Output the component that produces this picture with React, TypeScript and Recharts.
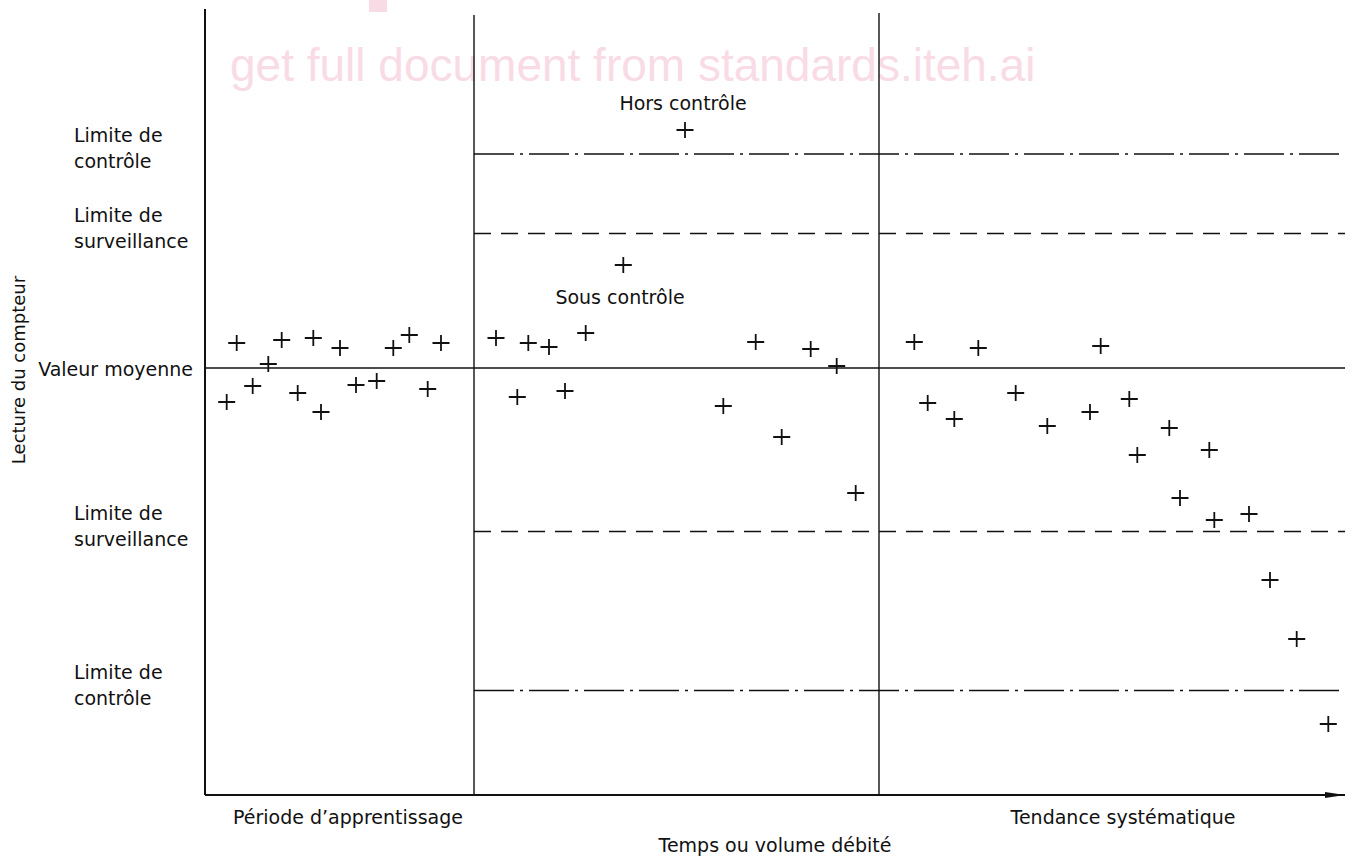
import React from "react";
import { ScatterChart, Scatter, XAxis, YAxis, ReferenceLine, ReferenceDot } from "recharts";

// readings: t = time / volume, v = meter reading
const learningPeriod = [
  { t: 2.17, v: 39.3 }, { t: 3.17, v: 45.2 }, { t: 4.77, v: 40.9 }, { t: 6.33, v: 43.1 },
  { t: 7.67, v: 45.5 }, { t: 9.27, v: 40.2 }, { t: 10.83, v: 45.7 }, { t: 11.6, v: 38.3 },
  { t: 13.5, v: 44.7 }, { t: 15.1, v: 41.0 }, { t: 17.17, v: 41.4 }, { t: 18.83, v: 44.7 },
  { t: 20.43, v: 46.0 }, { t: 22.27, v: 40.6 }, { t: 23.6, v: 45.2 },
];

const monitoredPeriod = [
  { t: 29.1, v: 45.7 }, { t: 31.23, v: 39.8 }, { t: 32.33, v: 45.2 }, { t: 34.4, v: 44.8 },
  { t: 36.0, v: 40.4 }, { t: 38.07, v: 46.2 }, { t: 41.83, v: 53.0 }, { t: 48.0, v: 66.5 },
  { t: 51.83, v: 38.9 }, { t: 55.07, v: 45.3 }, { t: 57.67, v: 35.8 }, { t: 60.57, v: 44.6 },
  { t: 63.17, v: 42.9 }, { t: 65.07, v: 30.2 },
];

const trendPeriod = [
  { t: 70.93, v: 45.3 }, { t: 72.27, v: 39.2 }, { t: 74.93, v: 37.6 }, { t: 77.33, v: 44.7 },
  { t: 81.07, v: 40.2 }, { t: 84.23, v: 36.9 }, { t: 88.5, v: 38.3 }, { t: 89.57, v: 44.9 },
  { t: 92.43, v: 39.6 }, { t: 93.23, v: 34.0 }, { t: 96.43, v: 36.7 }, { t: 97.5, v: 29.7 },
  { t: 100.43, v: 34.5 }, { t: 100.93, v: 27.5 }, { t: 104.4, v: 28.1 }, { t: 106.5, v: 21.5 },
  { t: 109.17, v: 15.6 }, { t: 112.33, v: 7.1 },
];

const meanValue = 42.7;
const controlLimits = [64.1, 10.45];
const watchLimits = [56.15, 26.35];
const periodBounds = [26.9, 67.4];
const periodTops = [78, 78.2];
const xMax = 114;
const yMax = 78.6;

const yTicks = [64.1, 56.15, 42.7, 26.35, 10.45];
const yTickLabels = [
  ["Limite de", "contrôle"],
  ["Limite de", "surveillance"],
  ["Valeur moyenne"],
  ["Limite de", "surveillance"],
  ["Limite de", "contrôle"],
];

const periodTicks = [14.3, 91.8];
const periodLabels = ["Période d’apprentissage", "Tendance systématique"];

const notes = [
  { t: 47.8, v: 69.2, text: "Hors contrôle" },
  { t: 41.5, v: 49.8, text: "Sous contrôle" },
];

const INK = "#111";
const FONT = "'DejaVu Sans', sans-serif";

const Plus = (props: any) => {
  const { cx, cy } = props;
  return (
    <path
      d={`M${cx - 8.5},${cy}H${cx + 8.5}M${cx},${cy - 8}V${cy + 8}`}
      stroke={INK}
      strokeWidth={1.8}
      fill="none"
    />
  );
};

const LimitTick = (props: any) => {
  const { x, y, payload } = props;
  const lines = yTickLabels[yTicks.indexOf(payload.value)] || [];
  const common = { fill: INK, fontSize: 19, fontFamily: FONT, dominantBaseline: "central" as const };
  if (lines.length === 1) {
    return (
      <text x={x - 12} y={y + 1} textAnchor="end" {...common}>
        {lines[0]}
      </text>
    );
  }
  return (
    <g>
      <text x={x - 131} y={y - 19} textAnchor="start" {...common}>{lines[0]}</text>
      <text x={x - 131} y={y + 7} textAnchor="start" {...common}>{lines[1]}</text>
    </g>
  );
};

const PeriodTick = (props: any) => {
  const { x, y, payload } = props;
  const label = periodLabels[periodTicks.indexOf(payload.value)] || "";
  return (
    <text x={x} y={y + 22} textAnchor="middle" dominantBaseline="central" fill={INK} fontSize={19} fontFamily={FONT}>
      {label}
    </text>
  );
};

const YTitle = (props: any) => {
  const { viewBox } = props;
  const cx = viewBox.x + 18;
  const cy = viewBox.y + viewBox.height / 2 - 32;
  return (
    <text
      x={cx}
      y={cy}
      transform={`rotate(-90 ${cx} ${cy})`}
      textAnchor="middle"
      dominantBaseline="central"
      fill={INK}
      fontSize={18}
      fontFamily={FONT}
    >
      Lecture du compteur
    </text>
  );
};

const Arrow = (props: any) => {
  const { cx, cy } = props;
  return <path d={`M${cx},${cy} L${cx - 20},${cy - 3} L${cx - 20},${cy + 3} Z`} fill={INK} />;
};

export default function App() {
  return (
    <div style={{ position: "absolute", left: 0, top: 0, width: 1355, height: 858, background: "#fff" }}>
      <svg width={1355} height={858} style={{ position: "absolute", left: 0, top: 0 }}>
        <rect x={369} y={0} width={18} height={12} fill="#f9dbe6" />
        <text x={230} y={81} fill="#f9dbe6" fontSize={46} fontFamily="'Liberation Sans', Arial, sans-serif">
          get full document from standards.iteh.ai
        </text>
      </svg>
      <div style={{ position: "absolute", left: 0, top: 0 }}>
        <ScatterChart width={1355} height={858} margin={{ top: 9, right: 10, bottom: 0, left: 0 }}>
          <XAxis
            type="number"
            dataKey="t"
            domain={[0, xMax]}
            ticks={periodTicks}
            interval={0}
            tick={<PeriodTick />}
            tickLine={false}
            tickSize={0}
            tickMargin={0}
            height={63}
            axisLine={{ stroke: INK, strokeWidth: 2 }}
            label={{
              value: "Temps ou volume débité",
              position: "insideBottom",
              offset: 6,
              fill: INK,
              fontSize: 19,
              fontFamily: FONT,
            }}
          />
          <YAxis
            type="number"
            dataKey="v"
            domain={[0, yMax]}
            ticks={yTicks}
            interval={0}
            tick={<LimitTick />}
            tickLine={false}
            tickSize={0}
            tickMargin={0}
            width={205}
            axisLine={{ stroke: INK, strokeWidth: 2 }}
            label={{ content: <YTitle /> }}
          />

          <ReferenceLine y={meanValue} stroke={INK} strokeWidth={1.5} />
          {controlLimits.map((v, i) => (
            <ReferenceLine
              key={`ctl-${i}`}
              segment={[{ x: periodBounds[0], y: v }, { x: xMax, y: v }]}
              stroke={INK}
              strokeWidth={1.5}
              strokeDasharray="40 6 3 6"
            />
          ))}
          {watchLimits.map((v, i) => (
            <ReferenceLine
              key={`watch-${i}`}
              segment={[{ x: periodBounds[0], y: v }, { x: xMax, y: v }]}
              stroke={INK}
              strokeWidth={1.5}
              strokeDasharray="17 10"
            />
          ))}
          {periodBounds.map((t, i) => (
            <ReferenceLine
              key={`bound-${i}`}
              segment={[{ x: t, y: 0 }, { x: t, y: periodTops[i] }]}
              stroke={INK}
              strokeWidth={1.4}
            />
          ))}

          <Scatter data={learningPeriod} shape={<Plus />} isAnimationActive={false} />
          <Scatter data={monitoredPeriod} shape={<Plus />} isAnimationActive={false} />
          <Scatter data={trendPeriod} shape={<Plus />} isAnimationActive={false} />

          {notes.map((n, i) => (
            <ReferenceDot
              key={`note-${i}`}
              x={n.t}
              y={n.v}
              r={0}
              fill="none"
              stroke="none"
              ifOverflow="visible"
              label={{ value: n.text, position: "center", fill: INK, fontSize: 19, fontFamily: FONT }}
            />
          ))}
          <ReferenceDot x={xMax} y={0} r={3} ifOverflow="visible" shape={<Arrow />} />
        </ScatterChart>
      </div>
    </div>
  );
}
